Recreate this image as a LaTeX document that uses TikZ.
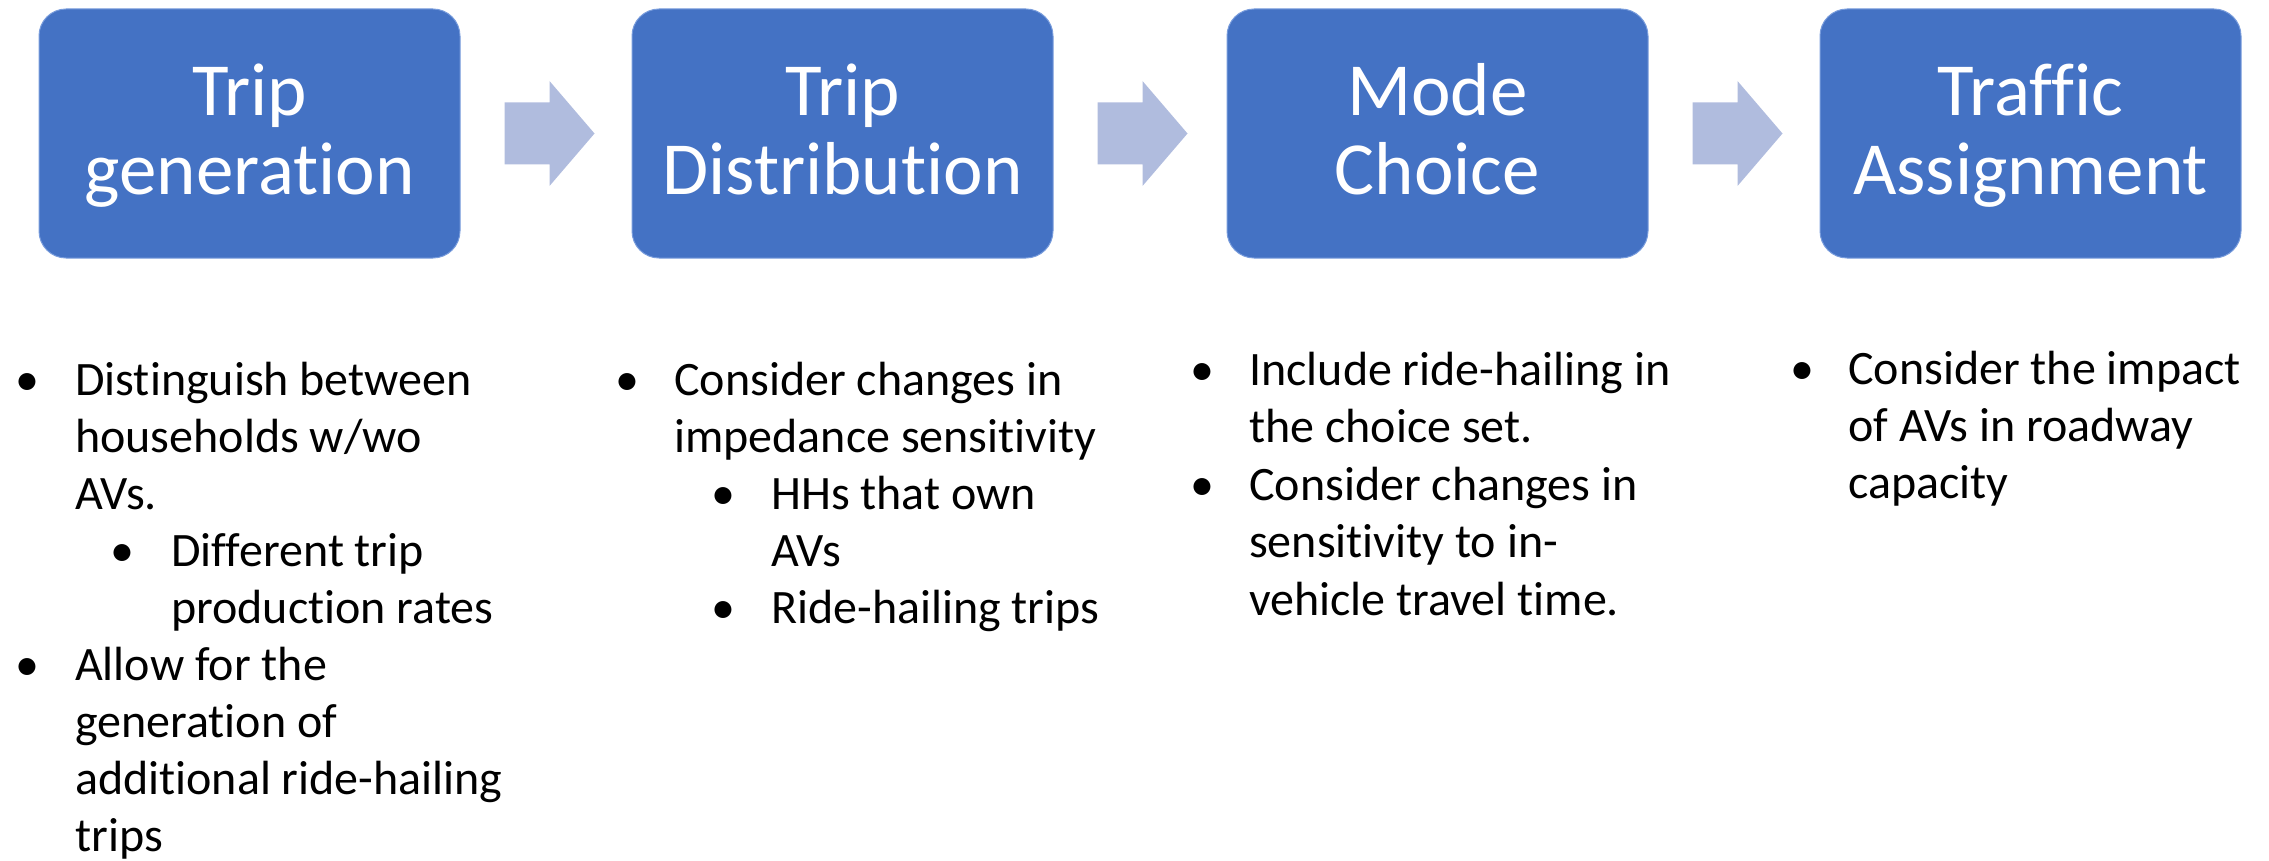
\documentclass[tikz,border=0pt]{standalone}
\usepackage{fontspec}
\setmainfont{Carlito}[Ligatures={NoCommon}]
\usetikzlibrary{calc}
\definecolor{stageblue}{RGB}{68,114,196}
\definecolor{stageedge}{RGB}{120,156,220}
\definecolor{flowarrow}{RGB}{176,188,222}
\begin{document}
\begin{tikzpicture}[x=1pt,y=-1pt,
  stagebox/.style={draw=stageedge,line width=1pt,fill=stageblue,rounded corners=27pt,
    minimum width=421pt,minimum height=249pt,inner sep=0pt},
  stagetext/.style={text=white,font=\fontsize{75}{82}\selectfont,anchor=base,inner sep=0pt},
  body/.style={font=\fontsize{48}{57}\selectfont,anchor=base west,inner sep=0pt},
  dot/.style={font=\fontsize{48}{57}\selectfont,anchor=base west,inner sep=0pt}]
\useasboundingbox (0,0) rectangle (2269,861);

% process stages
\node[stagebox] (b1) at (249.5,133.5) {};
\node[stagebox] (b2) at (842.5,133.5) {};
\node[stagebox] (b3) at (1437.5,133.5) {};
\node[stagebox] (b4) at (2030.5,133.5) {};

\node[stagetext] (t1a) at (249.5,116) {Trip};
\node[stagetext] (t1b) at (249.5,195) {generation};
\node[stagetext] (t2a) at (842.5,116) {Trip};
\node[stagetext] (t2b) at (842.5,195) {Distribution};
\node[stagetext] (t3a) at (1437.5,116) {Mode};
\node[stagetext] (t3b) at (1437.5,195) {Choice};
\node[stagetext] (t4a) at (2030.5,116) {Traffic};
\node[stagetext] (t4b) at (2030.5,195) {Assignment};

% block arrows between stages
\foreach \a/\b in {b1/b2,b2/b3,b3/b4}{
  \fill[flowarrow] ($(\a.east)+(44,-31)$) -- ++(45,0) -- ++(0,-21.5) -- ++(45,52.5)
    -- ++(-45,52.5) -- ++(0,-21.5) -- ++(-45,0) -- cycle;
}

% trip generation notes
\node[dot] (d1a) at (15,395) {•};
\node[body] (l1a) at (75,395) {Distinguish between};
\node[body] (l1b) at (75,452) {households w/wo};
\node[body] (l1c) at (75,509) {AVs.};
\node[dot] (d1b) at (110,566) {•};
\node[body] (l1d) at (171,566) {Different trip};
\node[body] (l1e) at (171,623) {production rates};
\node[dot] (d1c) at (15,680) {•};
\node[body] (l1f) at (75,680) {Allow for the};
\node[body] (l1g) at (75,737) {generation of};
\node[body] (l1h) at (75,794) {additional ride-hailing};
\node[body] (l1i) at (75,851) {trips};

% trip distribution notes
\node[dot] (d2a) at (615,395) {•};
\node[body] (l2a) at (674,395) {Consider changes in};
\node[body] (l2b) at (674,452) {impedance sensitivity};
\node[dot] (d2b) at (711,509) {•};
\node[body] (l2c) at (771,509) {HHs that own};
\node[body] (l2d) at (771,566) {AVs};
\node[dot] (d2c) at (711,623) {•};
\node[body] (l2e) at (771,623) {Ride-hailing trips};

% mode choice notes
\node[dot] (d3a) at (1190,385) {•};
\node[body] (l3a) at (1249,385) {Include ride-hailing in};
\node[body] (l3b) at (1249,442.5) {the choice set.};
\node[dot] (d3b) at (1190,500) {•};
\node[body] (l3c) at (1249,500) {Consider changes in};
\node[body] (l3d) at (1249,557.5) {sensitivity to in-};
\node[body] (l3e) at (1249,615) {vehicle travel time.};

% traffic assignment notes
\node[dot] (d4a) at (1790,384) {•};
\node[body] (l4a) at (1848,384) {Consider the impact};
\node[body] (l4b) at (1848,441) {of AVs in roadway};
\node[body] (l4c) at (1848,498) {capacity};
\end{tikzpicture}
\end{document}
